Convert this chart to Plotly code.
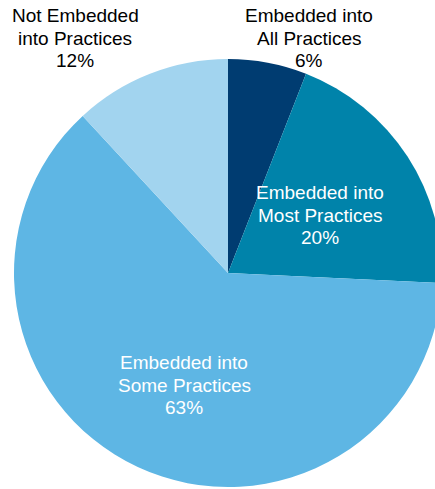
import plotly.graph_objects as go

categories = ["Embedded into<br>All Practices", "Embedded into<br>Most Practices",
              "Embedded into<br>Some Practices", "Not Embedded<br>into Practices"]
values = [6, 20, 63, 12]
colors = ["#003C71", "#0083AA", "#5EB6E4", "#A2D4EF"]

W, H = 450, 489
CX, CY, R = 228, 273, 214  # pie centre / radius in figure pixels

fig = go.Figure(go.Pie(
    labels=categories, values=values, sort=False, direction="clockwise", rotation=0,
    marker=dict(colors=colors, line=dict(width=0)),
    textinfo="none", hoverinfo="label+percent", showlegend=False,
    domain=dict(x=[(CX - R) / W, (CX + R) / W], y=[(H - (CY + R)) / H, (H - (CY - R)) / H]),
))

# label block centres (pixels) and colours
label_pos = [(309, 38, "#000000"), (320, 215, "#FFFFFF"), (184, 385, "#FFFFFF"), (75, 38, "#000000")]
LINE = 22.5
for cat, val, (px, py, col) in zip(categories, values, label_pos):
    lines = cat.split("<br>") + [f"{val}%"]
    n = len(lines)
    for i, txt in enumerate(lines):
        ly = py + (i - (n - 1) / 2) * LINE
        fig.add_annotation(
            x=px / W, y=1 - ly / H, xref="paper", yref="paper",
            text=txt, showarrow=False, xanchor="center", yanchor="middle",
            font=dict(family="Liberation Sans, Arial, sans-serif", size=19, color=col),
        )

fig.update_layout(
    width=W, height=H, margin=dict(l=0, r=0, t=0, b=0),
    paper_bgcolor="white", plot_bgcolor="white",
)
fig.write_html("out.html", config={"displayModeBar": False},
               post_script="document.body.style.margin='0';document.body.style.overflow='hidden';")
